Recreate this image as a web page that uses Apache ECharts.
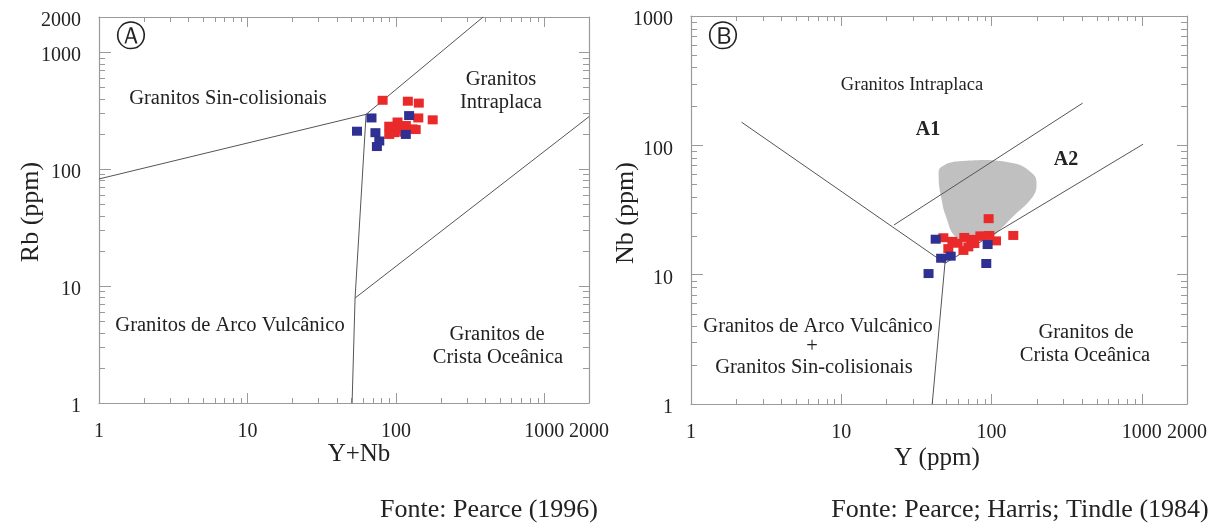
<!DOCTYPE html>
<html>
<head>
<meta charset="utf-8">
<script src="https://cdn.jsdelivr.net/npm/echarts@6/dist/echarts.min.js"></script>
<style>
html,body{margin:0;padding:0;background:#fff;}
#chart{width:1222px;height:526px;}
</style>
</head>
<body>
<div id="chart"></div>
<script>
// ---------- Panel A: Rb vs Y+Nb ----------
const aTicksX = [1, 10, 100, 1000, 2000];
const aTicksY = [1, 10, 100, 1000, 2000];
const aRedYNb = [81.4, 120.4, 142.7, 141.6, 177, 102.6, 90.2, 108, 129.4, 136, 97.4, 113.7, 90.2, 101.6, 116.7];
const aRedRb  = [388, 381, 367, 274, 264, 253, 233, 233, 221, 218, 205, 207, 198, 218, 236];
const aBlueYNb = [68.5, 122.8, 54.7, 72.8, 77.3, 74.5, 116.7];
const aBlueRb  = [274, 287, 211, 205, 174, 156, 198];
// boundary lines (data coordinates)
const aLineSyn = [[1, 82.4], [63, 294], [387, 2000]];
const aLineVag = [[63, 294], [53.1, 7.9], [50.7, 1]];
const aLineOrg = [[53.1, 7.9], [2000, 281]];

// ---------- Panel B: Nb vs Y ----------
const bTicksX = [1, 10, 100, 1000, 2000];
const bTicksY = [1, 10, 100, 1000];
const bRedY  = [95.7, 47.8, 139.6, 65.9, 84.3, 96.7, 107.1, 59.5, 70.1, 76.9, 51.6, 65, 89.6, 73.4, 54.9];
const bRedNb = [27.1, 19.3, 20.1, 19.4, 19.95, 20.1, 18.25, 17.5, 16.4, 17.4, 15.9, 15.4, 19.8, 18.75, 18.1];
const bBlueY  = [42.5, 46.2, 53.5, 38.1, 92.3, 94.2];
const bBlueNb = [18.8, 13.4, 13.9, 10.2, 12.2, 17.1];
const blobY  = [46.2, 64.3, 138, 187.6, 199.4, 187.6, 138, 112.7, 99.2, 74.9, 58.1, 49.9, 46.2, 44.5];
const blobNb = [67.9, 75.6, 73.0, 60.4, 50.6, 39.8, 27.9, 22.0, 19.5, 18.4, 19.5, 27.9, 39.8, 56.9];
const bLineWpg = [[2.17, 151], [49, 12.25]];
const bLineA1  = [[22.4, 24.2], [404, 212]];
const bLineA2  = [[49, 12.25], [1020, 102]];
const bLineDown = [[49, 12.25], [40.3, 1]];

const FONT = '"Liberation Serif", "Times New Roman", serif';
const AXC = '#9a9a9a';
const LINEC = '#555';
const RED = '#ea2a2a';
const BLUE = '#2e3192';

function zip(xs, ys) { return xs.map((x, i) => [x, ys[i]]); }
function minorVals(max) {
  const out = [];
  for (let d = 1; d < max; d *= 10) {
    for (let k = 2; k <= 9; k++) { const v = k * d; if (v < max) out.push(v); }
  }
  return out;
}

function xAxes(grid, max, ticks) {
  return [
    { gridIndex: grid, type: 'log', logBase: 10, min: 1, max: max, position: 'bottom',
      axisLine: { lineStyle: { color: AXC, width: 1.2 } },
      axisTick: { inside: true, length: 10, lineStyle: { color: AXC }, customValues: ticks },
      axisLabel: { fontFamily: FONT, fontSize: 20, color: '#222', margin: 19, customValues: ticks,
        formatter: v => String(Math.round(v)) },
      splitLine: { show: false } },
    { gridIndex: grid, type: 'log', logBase: 10, min: 1, max: max, position: 'top',
      axisLine: { lineStyle: { color: AXC, width: 1.2 } },
      axisTick: { inside: true, length: 10, lineStyle: { color: AXC }, customValues: ticks },
      axisLabel: { show: false }, splitLine: { show: false } }
  ];
}
function yAxes(grid, max, ticks) {
  return [
    { gridIndex: grid, type: 'log', logBase: 10, min: 1, max: max, position: 'left',
      axisLine: { lineStyle: { color: AXC, width: 1.2 } },
      axisTick: { inside: true, length: 12, lineStyle: { color: AXC }, customValues: ticks },
      axisLabel: { fontFamily: FONT, fontSize: 20, color: '#222', margin: 18, customValues: ticks,
        formatter: v => '{t|' + Math.round(v) + '}',
        rich: { t: { fontFamily: FONT, fontSize: 20, color: '#222', padding: [8, 0, 0, 0] } } },
      splitLine: { show: false } },
    { gridIndex: grid, type: 'log', logBase: 10, min: 1, max: max, position: 'right',
      axisLine: { lineStyle: { color: AXC, width: 1.2 } },
      axisTick: { inside: true, length: 10, lineStyle: { color: AXC }, customValues: ticks },
      axisLabel: { show: false }, splitLine: { show: false } }
  ];
}

function minorSeries(xi, yi, vals, isX) {
  return {
    type: 'custom', xAxisIndex: xi, yAxisIndex: yi, silent: true, clip: false, z: 1,
    data: vals.map(v => isX ? [v, 1] : [1, v]),
    renderItem: function (params, api) {
      const cs = params.coordSys;
      const st = { stroke: AXC, lineWidth: 1 };
      if (isX) {
        const x = Math.round(api.coord([api.value(0), 1])[0]) + 0.5;
        const b = cs.y + cs.height, t = cs.y;
        return { type: 'group', children: [
          { type: 'line', shape: { x1: x, y1: b, x2: x, y2: b - 5 }, style: st },
          { type: 'line', shape: { x1: x, y1: t, x2: x, y2: t + 5 }, style: st } ] };
      } else {
        const y = Math.round(api.coord([1, api.value(1)])[1]) + 0.5;
        const l = cs.x, r = cs.x + cs.width;
        return { type: 'group', children: [
          { type: 'line', shape: { x1: l, y1: y, x2: l + 6, y2: y }, style: st },
          { type: 'line', shape: { x1: r, y1: y, x2: r - 6, y2: y }, style: st } ] };
      }
    }
  };
}

function lineSeries(xi, yi, pts) {
  return { type: 'line', xAxisIndex: xi, yAxisIndex: yi, data: pts, symbol: 'none', silent: true,
    lineStyle: { color: LINEC, width: 1 }, z: 3, animation: false };
}
function scatter(xi, yi, pts, color) {
  return { type: 'scatter', xAxisIndex: xi, yAxisIndex: yi, data: pts, symbol: 'rect',
    symbolSize: [10, 9], itemStyle: { color: color, opacity: 1 }, z: 5, animation: false };
}

function txt(text, x, y, size, opts) {
  opts = opts || {};
  return { type: 'text', x: x, y: y, silent: true, z: 10, rotation: opts.rotation || 0,
    style: { text: text, font: (opts.weight || 'normal') + ' ' + size + 'px ' + (opts.family || FONT),
      fill: '#222', align: 'center', verticalAlign: 'middle', textAlign: 'center', textVerticalAlign: 'middle' } };
}

const LBL = 20.5;
const option = {
  animation: false,
  backgroundColor: '#fff',
  grid: [
    { left: 99, top: 17, width: 490, height: 386 },
    { left: 691, top: 16, width: 496, height: 388 }
  ],
  xAxis: [].concat(xAxes(0, 2000, aTicksX), xAxes(1, 2000, bTicksX)),
  yAxis: [].concat(yAxes(0, 2000, aTicksY), yAxes(1, 1000, bTicksY)),
  series: [
    minorSeries(0, 0, minorVals(2000), true),
    minorSeries(0, 0, minorVals(2000), false),
    minorSeries(2, 2, minorVals(2000), true),
    minorSeries(2, 2, minorVals(1000), false),
    {
      type: 'custom', xAxisIndex: 2, yAxisIndex: 2, silent: true, z: 2,
      data: [[blobY[0], blobNb[0]]],
      renderItem: function (params, api) {
        const pts = blobY.map((y, i) => api.coord([y, blobNb[i]]));
        return { type: 'polygon', shape: { points: pts, smooth: 0.45 }, style: { fill: '#c0c0c0', stroke: null } };
      }
    },
    lineSeries(0, 0, aLineSyn),
    lineSeries(0, 0, aLineVag),
    lineSeries(0, 0, aLineOrg),
    lineSeries(2, 2, bLineWpg),
    lineSeries(2, 2, bLineA1),
    lineSeries(2, 2, bLineA2),
    lineSeries(2, 2, bLineDown),
    scatter(0, 0, zip(aRedYNb, aRedRb), RED),
    scatter(0, 0, zip(aBlueYNb, aBlueRb), BLUE),
    scatter(2, 2, zip(bRedY, bRedNb), RED),
    scatter(2, 2, zip(bBlueY, bBlueNb), BLUE)
  ],
  graphic: [
    txt('\u24B6', 131, 38, 30, { family: '"DejaVu Sans", sans-serif' }),
    txt('Granitos Sin-colisionais', 228, 99, LBL),
    txt('Granitos', 501, 80, LBL),
    txt('Intraplaca', 501, 103, LBL),
    txt('Granitos de Arco Vulcânico', 230, 326, LBL),
    txt('Granitos de', 497, 335, LBL),
    txt('Crista Oceânica', 498, 358, LBL),
    txt('Rb (ppm)', 31, 212, 26, { rotation: Math.PI / 2 }),
    txt('Y+Nb', 359, 454, 25),
    txt('Fonte: Pearce (1996)', 489, 510, 26),
    txt('\u24B7', 723, 38, 30, { family: '"DejaVu Sans", sans-serif' }),
    txt('Granitos Intraplaca', 912, 85, 18.5),
    txt('A1', 928, 130, 20, { weight: 'bold' }),
    txt('A2', 1066, 160, 20, { weight: 'bold' }),
    txt('Granitos de Arco Vulcânico', 818, 327, LBL),
    txt('+', 812, 347, LBL),
    txt('Granitos Sin-colisionais', 814, 368, LBL),
    txt('Granitos de', 1086, 333, LBL),
    txt('Crista Oceânica', 1085, 356, LBL),
    txt('Nb (ppm)', 626, 213, 26, { rotation: Math.PI / 2 }),
    txt('Y (ppm)', 937, 458, 25),
    txt('Fonte: Pearce; Harris; Tindle (1984)', 1020, 510, 26)
  ]
};

const chart = echarts.init(document.getElementById('chart'), null, { renderer: 'canvas' });
chart.setOption(option);
</script>
</body>
</html>
